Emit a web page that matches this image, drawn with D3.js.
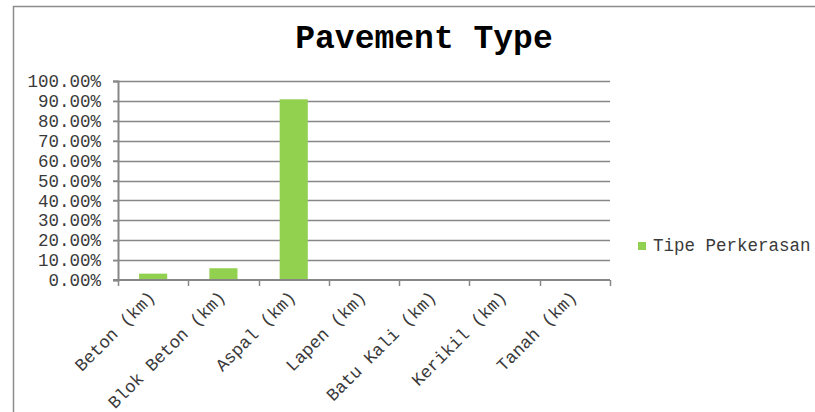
<!DOCTYPE html>
<html>
<head>
<meta charset="utf-8">
<script src="https://cdn.jsdelivr.net/npm/d3@7"></script>
<style>
  body { margin: 0; background: #fff; }
  text { font-family: "Courier New", "Liberation Mono", monospace; }
</style>
</head>
<body>
<div id="chart"></div>
<script>
var categories = ["Beton (km)", "Blok Beton (km)", "Aspal (km)", "Lapen (km)", "Batu Kali (km)", "Kerikil (km)", "Tanah (km)"];
var values = [0.032, 0.059, 0.908, 0, 0, 0, 0];
var yTicks = [0, 0.1, 0.2, 0.3, 0.4, 0.5, 0.6, 0.7, 0.8, 0.9, 1.0];
var seriesName = "Tipe Perkerasan";
var title = "Pavement Type";

var W = 815, H = 412;
var plot = { left: 118, right: 610, top: 81, bottom: 280 };
var green = "#92d050", gray = "#878787";

var svg = d3.select("#chart").append("svg")
  .attr("width", W).attr("height", H);

// chart border (top and left visible)
svg.append("path")
  .attr("d", "M13.5," + H + "V6.5H" + W)
  .attr("fill", "none").attr("stroke", "#8c8c8c").attr("stroke-width", 1.5);

svg.append("text")
  .attr("x", 424).attr("y", 48)
  .attr("text-anchor", "middle")
  .attr("font-size", 33).attr("font-weight", "bold")
  .text(title);

var x = d3.scaleBand().domain(categories)
  .range([plot.left, plot.right]).paddingInner(0.6).paddingOuter(0.3);
var xEdge = d3.scaleLinear().domain([0, categories.length]).range([plot.left, plot.right]);
var y = d3.scaleLinear().domain([0, 1]).range([plot.bottom, plot.top]);

// gridlines
svg.append("g").selectAll("line")
  .data(yTicks.slice(1))
  .enter().append("line")
    .attr("x1", plot.left - 5).attr("x2", plot.right)
    .attr("y1", function(d) { return Math.round(y(d)) + 0.5; })
    .attr("y2", function(d) { return Math.round(y(d)) + 0.5; })
    .attr("stroke", gray).attr("stroke-width", 1.5);

// bars
svg.append("g").selectAll("rect")
  .data(values)
  .enter().append("rect")
    .attr("x", function(d, i) { return x(categories[i]); })
    .attr("width", x.bandwidth())
    .attr("y", function(d) { return y(d); })
    .attr("height", function(d) { return y(0) - y(d); })
    .attr("fill", green);

// y axis
var yAxis = svg.append("g")
  .attr("transform", "translate(" + plot.left + ",0)")
  .call(d3.axisLeft(y).tickValues(yTicks).tickSize(5).tickPadding(12)
    .tickFormat(function(d) { return (d * 100).toFixed(2) + "%"; }));
yAxis.select(".domain").attr("stroke", gray).attr("stroke-width", 2);
yAxis.selectAll(".tick line").attr("stroke", gray).attr("stroke-width", 1.5);
yAxis.selectAll("text").attr("font-size", 17.5).attr("fill", "#3a3a3a");

// x axis
var xAxis = svg.append("g")
  .attr("transform", "translate(0," + plot.bottom + ")");
xAxis.append("line")
  .attr("x1", plot.left - 5).attr("x2", plot.right)
  .attr("stroke", gray).attr("stroke-width", 2);
xAxis.selectAll(".xt")
  .data(d3.range(categories.length + 1))
  .enter().append("line")
    .attr("class", "xt")
    .attr("x1", function(d) { return Math.round(xEdge(d)) + 0.5; })
    .attr("x2", function(d) { return Math.round(xEdge(d)) + 0.5; })
    .attr("y1", 0).attr("y2", 6)
    .attr("stroke", gray).attr("stroke-width", 1.5);
xAxis.selectAll(".xl")
  .data(categories)
  .enter().append("text")
    .attr("class", "xl")
    .attr("text-anchor", "end")
    .attr("font-size", 17.5).attr("fill", "#3a3a3a")
    .attr("transform", function(d) {
      return "translate(" + (x(d) + x.bandwidth() / 2 + 3) + ",18) rotate(-45)";
    })
    .text(function(d) { return d; });

// legend
var legend = svg.append("g").attr("transform", "translate(638,242)");
legend.append("rect").attr("width", 8).attr("height", 8).attr("fill", green);
legend.append("text").attr("x", 15).attr("y", 9)
  .attr("font-size", 17.5).attr("fill", "#3a3a3a")
  .text(seriesName);
</script>
</body>
</html>
